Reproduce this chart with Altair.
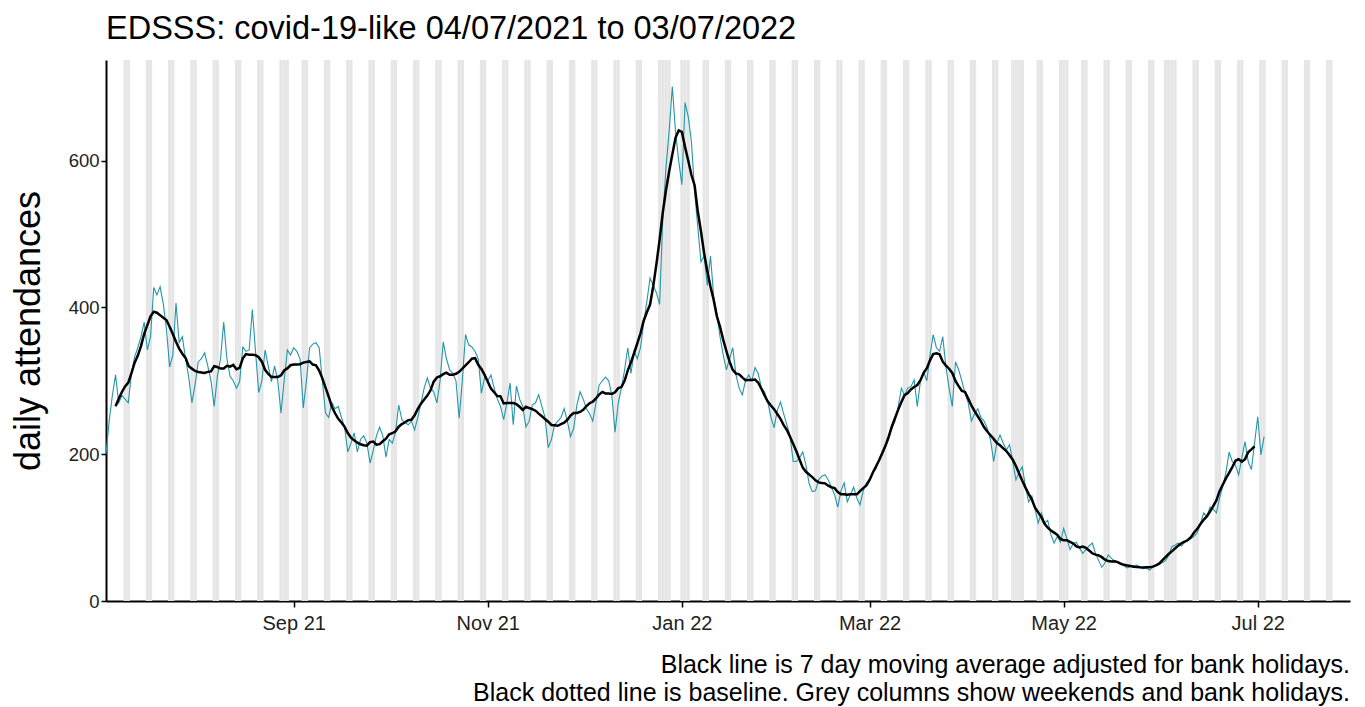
import altair as alt
import pandas as pd

title_text = "EDSSS: covid-19-like 04/07/2021 to 03/07/2022"
y_title = "daily attendances"
caption_lines = [
    "Black line is 7 day moving average adjusted for bank holidays.",
    "Black dotted line is baseline. Grey columns show weekends and bank holidays.",
]
start_date = "2021-07-04"
axis_end = "2022-07-30"

# daily counts, one row per week (Sun..Sat)
daily_attendances = [
    200, 245, 280, 308, 270, 280, 275,
    270, 310, 333, 345, 360, 380, 342,
    360, 427, 417, 428, 405, 370, 319,
    335, 406, 352, 360, 330, 305, 270,
    295, 326, 330, 338, 320, 300, 265,
    306, 330, 380, 330, 306, 300, 290,
    299, 346, 340, 342, 397, 340, 284,
    300, 342, 320, 299, 320, 300, 256,
    300, 342, 335, 345, 340, 330, 263,
    300, 345, 350, 352, 345, 300, 256,
    250, 270, 262, 265, 250, 237, 203,
    215, 229, 203, 220, 225, 215, 188,
    205, 225, 237, 225, 196, 220, 215,
    230, 267, 247, 243, 240, 245, 233,
    250, 270, 290, 304, 290, 285, 270,
    300, 353, 330, 315, 310, 300, 249,
    300, 363, 349, 346, 340, 330, 283,
    305, 300, 308, 290, 275, 265, 247,
    270, 297, 240, 293, 275, 265, 237,
    245, 267, 270, 281, 265, 250, 209,
    220, 240, 245, 250, 262, 245, 224,
    235, 267, 285, 275, 262, 255, 245,
    270, 294, 300, 305, 300, 280, 230,
    270, 290, 315, 345, 310, 340, 330,
    345, 380, 408, 440, 430, 420, 404,
    520, 590, 640, 701, 640, 600, 567,
    679, 660, 626, 558, 510, 462, 470,
    430, 470, 415, 390, 360, 335, 315,
    330, 345, 308, 290, 281, 300, 308,
    300, 318, 310, 290, 285, 271, 250,
    236, 260, 271, 255, 240, 225, 190,
    190, 195, 203, 185, 160, 149, 150,
    165, 170, 172, 165, 155, 145, 128,
    150, 161, 135, 145, 155, 140, 131,
    150, 161, 165, 175, 180, 192, 200,
    210, 220, 235, 245, 265, 290, 280,
    290, 292, 301, 265, 300, 312, 300,
    335, 363, 345, 340, 360, 319, 290,
    265, 326, 315, 300, 283, 270, 245,
    255, 262, 250, 245, 235, 220, 190,
    215, 226, 215, 206, 213, 190, 165,
    175, 183, 155, 135, 143, 125, 106,
    120, 106, 110, 90, 79, 88, 80,
    99, 85, 70, 78, 80, 72, 65,
    70, 75, 79, 65, 55, 46, 52,
    63, 58, 55, 52, 50, 48, 45,
    47, 48, 49, 46, 44, 45, 42,
    46, 49, 50, 52, 55, 62, 74,
    76, 79, 75, 80, 82, 85, 88,
    93, 105, 120, 115, 128, 125, 120,
    140, 156, 175, 203, 190, 185, 172,
    195, 217, 190, 179, 215, 251, 199,
    224,
]

bank_holidays = ["2021-08-30", "2021-12-27", "2021-12-28", "2022-01-03",
                 "2022-04-15", "2022-04-18", "2022-05-02", "2022-06-02", "2022-06-03"]
y_ticks = [0, 200, 400, 600]
x_tick_dates = [(2021, 9), (2021, 11), (2022, 1), (2022, 3), (2022, 5), (2022, 7)]

FONT = "Liberation Sans"
TEAL = "#2596a8"
W, H = 1244, 541

dates = pd.date_range(start_date, periods=len(daily_attendances), freq="D")
df = pd.DataFrame({"date": dates.strftime("%Y-%m-%dT00:00:00Z"), "value": daily_attendances})

t0 = pd.Timestamp(start_date)
t1 = pd.Timestamp(axis_end)
rows = []
for d in pd.date_range(start_date, axis_end, freq="D"):
    if d.weekday() >= 5 or d.strftime("%Y-%m-%d") in bank_holidays:
        s = d - pd.Timedelta(hours=12)
        e = d + pd.Timedelta(hours=12)
        if s >= t0 and e <= t1:
            rows.append({"start": s.strftime("%Y-%m-%dT%H:%M:%SZ"),
                         "end": e.strftime("%Y-%m-%dT%H:%M:%SZ")})
shade_df = pd.DataFrame(rows)

x_scale = alt.Scale(type="utc",
                    domain=[alt.DateTime(year=2021, month=7, date=4, utc=True),
                            alt.DateTime(year=2022, month=7, date=30, utc=True)])
y_scale = alt.Scale(domain=[0, 737], nice=False, zero=True)

x_axis = alt.Axis(values=[alt.DateTime(year=y, month=m, date=1, utc=True) for y, m in x_tick_dates],
                  labelExpr="utcFormat(datum.value, '%b %y')", title=None, labelFontSize=20,
                  tickSize=6, labelPadding=6, domainWidth=2, tickWidth=1.5)
y_axis = alt.Axis(values=y_ticks, title=y_title, titleFontSize=36, labelFontSize=18.5,
                  tickSize=5, labelPadding=2, titlePadding=21, domainWidth=2, tickWidth=1.5)

shade = alt.Chart(shade_df).mark_rect(color="#e6e6e6", clip=True).encode(
    x=alt.X("start:T", scale=x_scale, axis=x_axis),
    x2="end:T",
    y=alt.value(0),
    y2=alt.value(H),
)

teal = alt.Chart(df).mark_line(color=TEAL, strokeWidth=1.1, clip=True).encode(
    x=alt.X("date:T", scale=x_scale, axis=x_axis),
    y=alt.Y("value:Q", scale=y_scale, axis=y_axis),
)

ma = alt.Chart(df).transform_window(
    ma="mean(value)", n="count(value)", frame=[-3, 3]
).transform_filter("datum.n == 7").mark_line(color="black", strokeWidth=2.5, clip=True).encode(
    x=alt.X("date:T", scale=x_scale, axis=x_axis),
    y=alt.Y("ma:Q", scale=y_scale, axis=y_axis),
)

captions = []
for i, line in enumerate(caption_lines):
    captions.append(
        alt.Chart(pd.DataFrame({"t": [line]})).mark_text(
            align="right", baseline="alphabetic", fontSize=25, font=FONT, color="black"
        ).encode(text="t:N", x=alt.value(W), y=alt.value(H + 72 + 28 * i))
    )

chart = alt.layer(shade, teal, ma, *captions).properties(
    width=W, height=H,
    autosize=alt.AutoSizeParams(type="none"),
    padding={"left": 98, "top": 52, "right": 7, "bottom": 106},
    title=alt.TitleParams(text=title_text, anchor="start", frame="group", fontSize=32.5,
                          font=FONT, fontWeight="normal", color="black", offset=15),
).configure_view(stroke=None).configure_axis(
    grid=False, domainColor="black", tickColor="black", labelColor="#222222",
    titleColor="black", labelFont=FONT, titleFont=FONT, titleFontWeight="normal",
)

chart.save("out.html", embed_options={"renderer": "svg", "actions": False})
